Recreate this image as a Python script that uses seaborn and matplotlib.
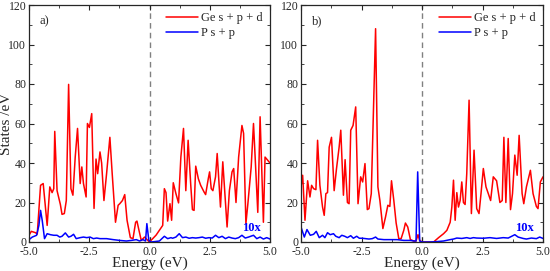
import numpy as np
import pandas as pd
import matplotlib
matplotlib.use("Agg")
import matplotlib.pyplot as plt
import seaborn as sns
from matplotlib.ticker import MultipleLocator

# ---------------- data ----------------
# zoom-pixel x readings converted: E = (x-85)/73 - 5 for panel a, (x-90)/73 - 5 for panel b
a_ge_x = [85, 92, 105, 110, 120, 128, 140, 148, 155, 160, 163, 170, 180, 185, 192, 198, 205, 212, 218,
          225, 232, 240, 245, 250, 258, 262, 268, 275, 282, 288, 293, 300, 305, 312, 320, 330, 337,
          347, 355, 360, 368, 375, 382, 392, 400, 408, 412, 418, 425, 435, 445, 450, 470, 490, 495,
          500, 505, 512, 517, 522, 530, 538, 545, 553, 560, 567, 575, 580, 585, 590, 598, 605, 615,
          620, 628, 632, 637, 642, 650, 655, 665, 672, 685, 692, 700, 705, 712, 720, 730, 735, 742,
          748, 758, 765, 770, 778, 785, 795, 800, 808, 815]
a_ge_y = [3.4, 5.4, 4.7, 4.0, 28.7, 29.6, 8.4, 27.9, 25.0, 27.0, 56.0, 26.0, 19.0, 14.0, 14.4, 21.0,
          79.8, 27.0, 23.7, 43.0, 57.5, 29.6, 38.0, 29.6, 22.8, 60.0, 58.0, 65.0, 17.0, 42.0, 34.6,
          45.6, 40.0, 21.0, 34.6, 53.0, 34.6, 10.0, 18.6, 19.4, 21.0, 24.0, 11.0, 2.2, 1.7, 10.0,
          10.6, 6.0, 0.8, 2.5, 0.8, 0.0, 3.5, 8.4, 27.0, 25.0, 10.6, 19.4, 11.0, 30.0, 24.5, 19.8,
          43.0, 57.5, 26.0, 51.5, 28.7, 16.4, 16.0, 38.4, 32.0, 28.7, 25.4, 24.0, 32.0, 35.5, 27.0,
          26.0, 33.0, 44.8, 17.7, 40.6, 7.6, 26.0, 35.5, 37.2, 20.0, 43.0, 59.0, 55.0, 9.3, 19.4,
          38.0, 60.0, 43.0, 15.0, 63.4, 10.0, 43.0, 41.4, 40.0]

a_p_x = [85, 95, 108, 115, 120, 125, 132, 140, 150, 160, 170, 178, 185, 195, 205, 212, 220, 228, 240,
         250, 260, 270, 280, 290, 300, 320, 340, 360, 380, 395, 410, 420, 430, 438, 442, 448, 455,
         480, 495, 505, 515, 520, 530, 540, 550, 560, 570, 580, 590, 600, 610, 620, 630, 640, 650,
         660, 670, 680, 690, 700, 710, 720, 730, 740, 750, 765, 775, 785, 795, 805, 815]
a_p_y = [1.2, 2.5, 3.4, 8.4, 16.0, 11.0, 1.7, 4.2, 3.7, 3.4, 3.4, 2.5, 2.9, 4.6, 2.5, 2.9, 3.9, 1.7,
         2.2, 2.5, 2.2, 2.5, 1.7, 2.0, 1.7, 1.7, 1.2, 0.8, 0.5, 0.8, 1.2, 0.5, 1.2, 0.5, 9.3, 0.8,
         0.0, 0.5, 2.9, 1.7, 2.2, 1.9, 2.5, 4.2, 2.2, 2.5, 1.9, 2.2, 2.0, 2.2, 2.5, 1.9, 2.2, 2.0,
         3.4, 2.2, 2.9, 1.7, 2.5, 2.0, 1.7, 2.2, 3.4, 2.0, 2.5, 3.4, 1.7, 2.5, 1.5, 2.2, 1.5]

b_ge_x = [90, 95, 102, 110, 117, 122, 128, 135, 140, 147, 155, 160, 165, 170, 175, 182, 190, 197, 205,
          210, 218, 223, 230, 235, 240, 247, 255, 262, 270, 276, 283, 290, 295, 302, 315, 322, 328,
          337, 345, 352, 358, 363, 370, 377, 385, 392, 400, 405, 412, 420, 430, 437, 443, 448, 455,
          490, 505, 520, 530, 540, 545, 550, 555, 560, 565, 570, 575, 580, 585, 590, 597, 604, 612,
          620, 627, 633, 640, 648, 655, 662, 670, 680, 690, 697, 702, 708, 715, 722, 728, 735, 742,
          748, 757, 762, 770, 782, 790, 800, 805, 812, 820]
b_ge_y = [27.9, 33.8, 11.0, 31.0, 22.8, 28.7, 27.0, 26.5, 51.5, 28.7, 17.7, 13.5, 24.5, 25.0, 48.0,
          53.0, 26.0, 37.0, 48.0, 56.6, 23.7, 41.7, 20.0, 19.4, 56.6, 59.0, 68.4, 19.4, 33.0, 30.4,
          39.7, 16.4, 16.9, 24.5, 108.0, 27.9, 21.0, 6.8, 12.7, 18.6, 18.0, 31.0, 21.0, 9.6, 1.7,
          1.7, 5.9, 9.6, 7.6, 1.2, 0.5, 0.5, 3.7, 0.8, 0.0, 0.0, 2.2, 4.2, 5.9, 10.0, 17.7, 31.3,
          11.0, 25.0, 17.7, 21.0, 30.4, 20.0, 19.0, 34.6, 71.8, 14.4, 46.5, 16.9, 14.4, 24.5, 37.2,
          27.9, 24.5, 21.0, 33.0, 31.0, 20.0, 21.0, 53.0, 20.0, 52.4, 16.4, 24.5, 44.0, 33.8, 54.0,
          24.5, 19.4, 27.9, 36.3, 24.5, 18.0, 16.9, 30.4, 33.0]

b_p_x = [90, 100, 108, 118, 128, 136, 145, 155, 162, 170, 178, 188, 195, 205, 213, 222, 230, 240, 248,
         258, 266, 275, 285, 295, 305, 315, 322, 340, 360, 380, 400, 420, 432, 437, 442, 448, 455,
         480, 500, 520, 540, 550, 560, 575, 590, 600, 610, 620, 640, 660, 680, 700, 715, 735, 745,
         760, 770, 785, 800, 810, 820]
b_p_y = [7.6, 2.5, 6.3, 3.4, 3.9, 5.4, 2.2, 3.4, 2.2, 4.7, 3.7, 4.2, 2.9, 2.2, 3.4, 2.9, 2.2, 3.2,
         1.9, 2.9, 1.9, 1.9, 1.7, 1.5, 1.7, 2.5, 1.5, 1.2, 1.2, 1.2, 0.8, 0.8, 0.5, 0.5, 35.5, 0.5,
         0.0, 0.0, 0.2, 0.5, 1.2, 1.5, 2.0, 1.8, 2.2, 1.8, 2.2, 2.0, 1.9, 2.2, 1.8, 2.2, 2.0, 3.7,
         2.5, 1.8, 1.5, 2.0, 1.7, 2.5, 1.8]

xticks = [-5.0, -2.5, 0.0, 2.5, 5.0]
yticks = [0, 20, 40, 60, 80, 100, 120]
panel_labels = ["a)", "b)"]
series_names = ["Ge s + p + d", "P s + p"]


def to_energy(px, x0):
    return [(p - x0) / 73.0 - 5.0 for p in px]


panels = [
    (to_energy(a_ge_x, 85), a_ge_y, to_energy(a_p_x, 85), a_p_y),
    (to_energy(b_ge_x, 90), b_ge_y, to_energy(b_p_x, 90), b_p_y),
]

sns.set_style("ticks")
plt.rcParams["font.family"] = ["Liberation Serif", "DejaVu Serif"]
plt.rcParams["xtick.direction"] = "in"
plt.rcParams["ytick.direction"] = "in"

fig = plt.figure(figsize=(5.5, 2.71), dpi=100)
axes = [fig.add_axes([29 / 550, 1 - 242 / 271, 241 / 550, 237 / 271]),
        fig.add_axes([301 / 550, 1 - 242 / 271, 242 / 550, 237 / 271])]

for i, (ax, (gx, gy, px, py)) in enumerate(zip(axes, panels)):
    df_ge = pd.DataFrame({"E": np.clip(gx, -5, 5), "S": gy})
    df_p = pd.DataFrame({"E": np.clip(px, -5, 5), "S": py})
    sns.lineplot(data=df_ge, x="E", y="S", ax=ax, color="#ff0000", lw=1.1,
                 label=series_names[0], sort=False, estimator=None)
    sns.lineplot(data=df_p, x="E", y="S", ax=ax, color="#0000ff", lw=1.1,
                 label=series_names[1], sort=False, estimator=None)
    ax.axvline(0, color="#808080", ls=(0, (4, 3)), lw=1.0, zorder=0)
    ax.set_xlim(-5, 5)
    ax.set_ylim(0, 120)
    ax.set_xticks(xticks)
    ax.set_xticklabels([f"{t:.1f}" for t in xticks])
    ax.set_yticks(yticks)
    ax.xaxis.set_minor_locator(MultipleLocator(1.25))
    ax.yaxis.set_minor_locator(MultipleLocator(10))
    ax.tick_params(which="both", top=True, right=True, labelsize=8.5)
    ax.tick_params(axis="y", pad=2)
    ax.tick_params(axis="x", pad=3)
    ax.tick_params(which="major", length=3.5, width=0.8)
    ax.tick_params(which="minor", length=2, width=0.6)
    for s in ax.spines.values():
        s.set_linewidth(0.9)
    ax.set_xlabel("Energy (eV)", fontsize=11, labelpad=-1)
    if i == 0:
        ax.set_ylabel("States /eV", fontsize=11)
        ax.yaxis.set_label_coords(-0.068, 0.5)
    else:
        ax.set_ylabel("")
    ax.text(0.045, 0.955, panel_labels[i], transform=ax.transAxes, fontsize=9,
            ha="left", va="top")
    ax.text(0.96, 0.035, "10x", transform=ax.transAxes, fontsize=9, color="#0000ff",
            fontweight="bold", ha="right", va="bottom")
    ax.legend(loc="upper right", frameon=False, fontsize=9, handlelength=2.6,
              handletextpad=0.2, borderaxespad=0.2, labelspacing=0.2)

fig.savefig("out.png", dpi=100)
